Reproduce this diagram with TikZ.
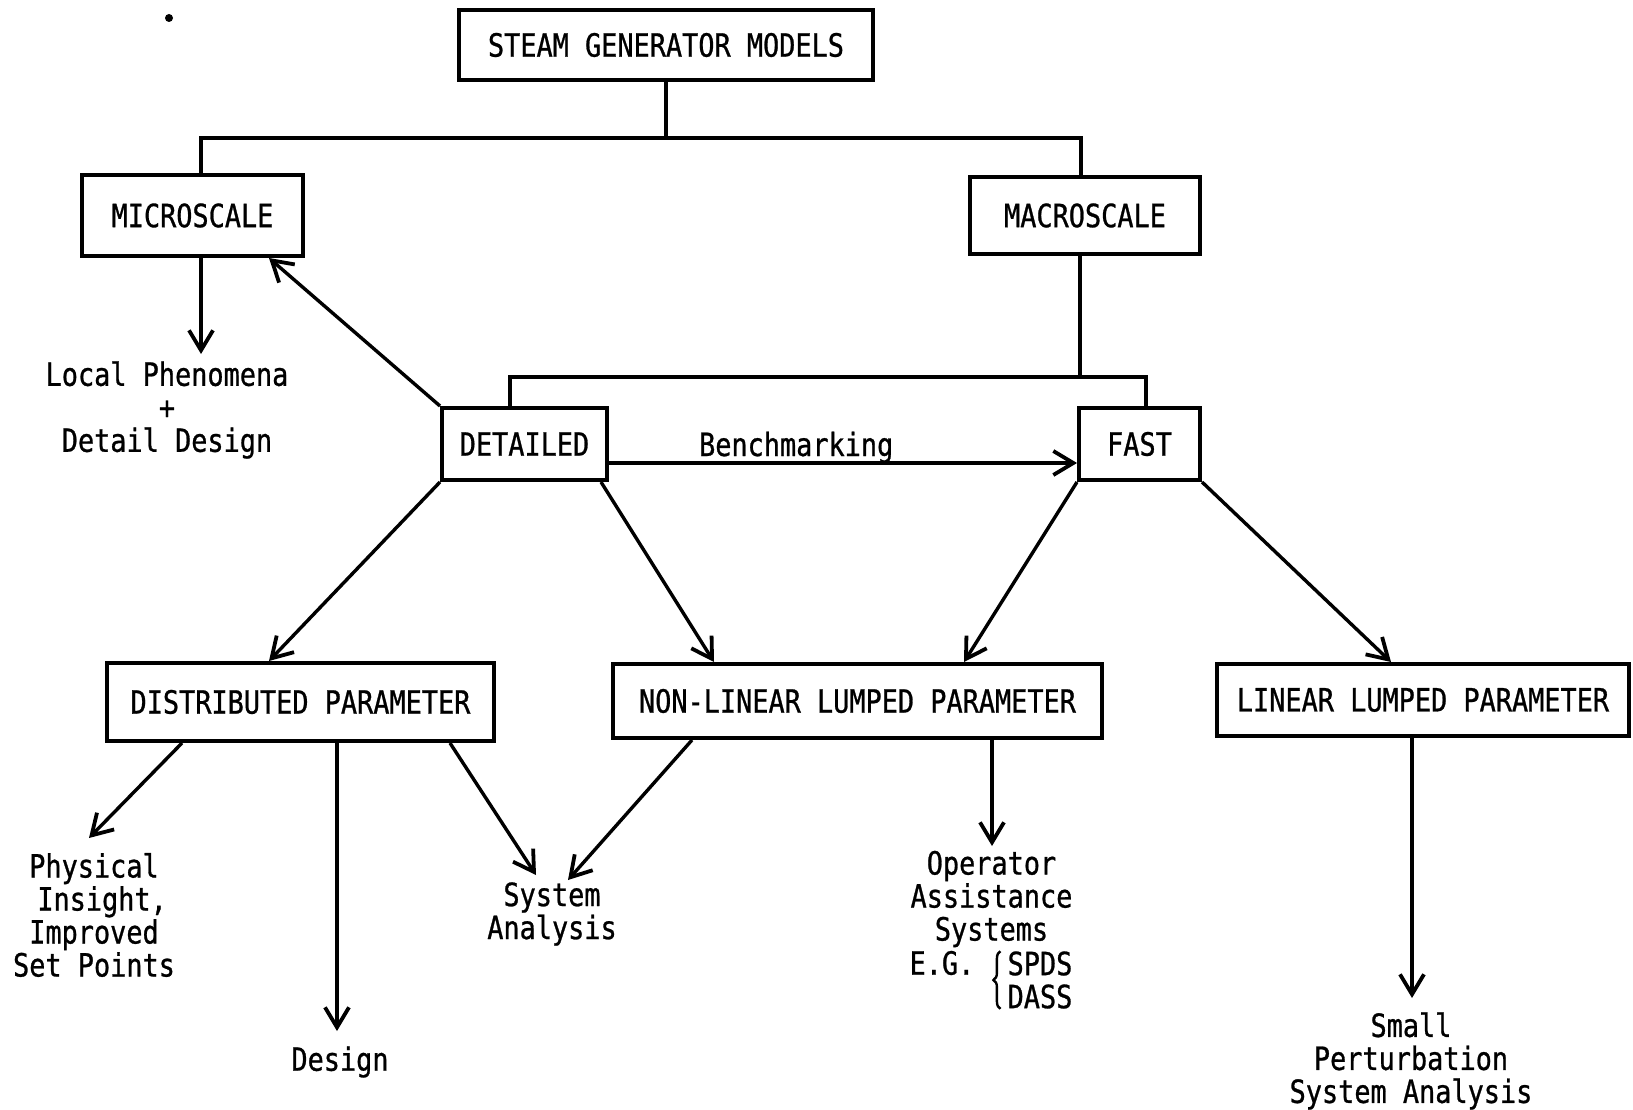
\documentclass[tikz,border=0pt]{standalone}
\usepackage{fontspec}
\setmainfont{DejaVu Sans Mono}[FakeStretch=0.84,FakeBold=0.8]
\usetikzlibrary{arrows.meta,calc,decorations.pathreplacing}
\tikzset{
  box/.style={draw, line width=4pt},
  conn/.style={line width=3.4pt},
  arr/.style={line width=3.4pt, -{Straight Barb[length=20pt,width=24pt,line width=3.8pt]}},
}
\begin{document}
\begin{tikzpicture}[x=1pt,y=-1pt,
  every node/.style={font=\fontsize{32}{33}\selectfont, inner sep=0pt}]
\fill[white] (0,0) rectangle (1633,1110);
\useasboundingbox (0,0) rectangle (1633,1110);

% boxes
\node[box, minimum width=414pt, minimum height=70pt] (top) at (666,45) {\raisebox{-3pt}{STEAM GENERATOR MODELS}};
\node[box, minimum width=221pt, minimum height=81pt] (micro) at (192.5,215.5) {MICROSCALE};
\node[box, minimum width=230pt, minimum height=77pt] (macro) at (1085,215.5) {MACROSCALE};
\node[box, minimum width=165pt, minimum height=72pt] (detailed) at (524.5,444) {DETAILED};
\node[box, minimum width=121pt, minimum height=72pt] (fast) at (1139.5,444) {FAST};
\node[box, minimum width=387pt, minimum height=78pt] (dist) at (300.5,702) {DISTRIBUTED PARAMETER};
\node[box, minimum width=489pt, minimum height=74pt] (nonlin) at (857.5,701) {NON-LINEAR LUMPED PARAMETER};
\node[box, minimum width=412pt, minimum height=72pt] (linear) at (1423,700) {LINEAR LUMPED PARAMETER};

% text nodes
\node[align=center] (local) at (167,410) {Local Phenomena\\+\\Detail Design};
\node[align=center] (phys) at (94,915) {Physical\\\hphantom{,}Insight,\\Improved\\Set Points};
\node (design) at (340,1062) {Design};
\node[align=center] (sysan) at (552,914) {System\\Analysis};
\node[align=center] (oper) at (991.5,899) {Operator\\Assistance\\Systems};
\node (eg) at (942,963) {E.G.};
\node[align=left] (spds) at (1040,980) {SPDS\\DASS};
\node[align=center] (small) at (1411,1061) {Small\\Perturbation\\System Analysis};
\fill (169,18) circle (4pt);

\draw[line width=2.4pt, decorate, decoration={brace, amplitude=7pt}]
  ($(spds.south west)+(-7,0)$) -- ($(spds.north west)+(-7,0)$);

% tree connectors
\coordinate (j1) at (666,138);
\draw[conn] (top.south) -- (j1);
\draw[conn] ($(micro.north)+(8.5,0)$) |- (j1) -| ($(macro.north)+(-4,0)$);
\coordinate (j2) at (1080,377);
\draw[conn] ($(macro.south)+(-5,0)$) -- (j2);
\draw[conn] ($(detailed.north)+(-14.5,0)$) |- (j2) -| ($(fast.north)+(6.5,0)$);

% arrows
\coordinate (tLocal) at (201,354);
\draw[arr] ($(micro.south)+(8.5,0)$) -- (tLocal);
\draw[arr] (detailed.north west) -- ($(micro.south)+(76.5,0)$);
\draw[arr] (detailed.south west) -- ($(dist.north)+(-31.5,0)$);
\draw[arr] ($(detailed.south east)+(-8,0)$) -- ($(nonlin.north)+(-143.5,0)$);
\draw[arr] (fast.south west) -- ($(nonlin.north)+(106.5,0)$);
\draw[arr] (fast.south east) -- ($(linear.north)+(-32,0)$);
\draw[arr] ($(detailed.east)+(0,19)$) -- node[pos=0.4, anchor=base, yshift=7pt] (bench) {Benchmarking} ($(fast.west)+(0,19)$);

\coordinate (tPhys) at (89,838);
\draw[arr] ($(dist.south)+(-118.5,0)$) -- (tPhys);
\coordinate (tDesign) at (337,1031);
\draw[arr] ($(dist.south)+(36.5,0)$) -- (tDesign);
\coordinate (tSys1) at (536,875);
\draw[arr] ($(dist.south)+(149.5,0)$) -- (tSys1);
\coordinate (tSys2) at (568,880);
\draw[arr] ($(nonlin.south)+(-165.5,0)$) -- (tSys2);
\coordinate (tOper) at (992,846);
\draw[arr] ($(nonlin.south)+(134.5,0)$) -- (tOper);
\coordinate (tSmall) at (1412,998);
\draw[arr] ($(linear.south)+(-11,0)$) -- (tSmall);
\end{tikzpicture}
\end{document}
